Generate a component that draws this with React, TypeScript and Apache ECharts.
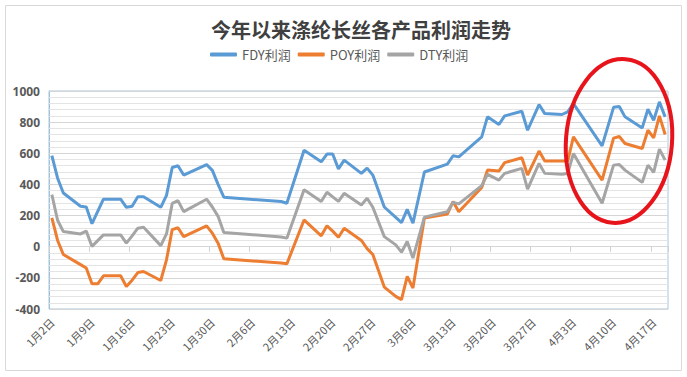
import React, { useEffect, useRef } from "react";
import * as echarts from "echarts";

// axis calendar (date axis, one slot per day)
const monthLengths = [31, 28, 31, 30];
const axisStartMonth = 1;
const axisStartDay = 2;
const axisEndMonth = 4;
const axisEndDay = 19;

// data points
const dates = [
  "1月2日", "1月3日", "1月4日", "1月7日", "1月8日", "1月9日", "1月10日", "1月11日",
  "1月14日", "1月15日", "1月16日", "1月17日", "1月18日", "1月21日", "1月22日", "1月23日",
  "1月24日", "1月25日", "1月29日", "1月30日", "1月31日", "2月1日", "2月11日", "2月12日",
  "2月15日", "2月18日", "2月19日", "2月20日", "2月21日", "2月22日", "2月25日", "2月26日",
  "2月27日", "3月1日", "3月3日", "3月4日", "3月5日", "3月6日", "3月8日", "3月12日",
  "3月13日", "3月14日", "3月18日", "3月19日", "3月21日", "3月22日", "3月25日", "3月26日",
  "3月28日", "3月29日", "4月1日", "4月2日", "4月3日", "4月8日", "4月10日", "4月11日",
  "4月12日", "4月15日", "4月16日", "4月17日", "4月18日", "4月19日",
];
const fdyProfit = [
  585, 440, 345, 260, 255, 148, null, 305,
  305, 253, 260, 321, 321, 253, 330, 509,
  520, 460, 527, 490, 400, 318, 290, 279,
  620, 545, 595, 595, 500, 556, 471, 505,
  460, 255, 189, 155, 240, 151, 480, 530,
  584, 577, 705, 834, 785, 840, 870, 748,
  913, 855, 849, 866, 919, 648, 895, 901,
  834, 763, 883, 812, 930, 834,
];
const poyProfit = [
  185, 40, -50, -115, -137, -238, -238, -187,
  -187, -255, -215, -166, -159, -217, -84, 110,
  122, 65, 134, 87, 23, -78, -105, -110,
  172, 70, 134, 100, 61, 119, 40, -12,
  -50, -259, -319, -340, -191, -265, 185, 210,
  290, 225, 380, 492, 486, 540, 571, 460,
  614, 550, 550, 550, 705, 428, 697, 708,
  663, 631, 748, 699, 840, 721,
];
const dtyProfit = [
  335, 170, 97, 82, 100, 2, null, 76,
  76, 23, 70, 119, 125, 7, 82, 278,
  296, 225, 305, 255, 195, 92, 62, 55,
  366, 290, 350, 320, 291, 343, 268, 311,
  253, 65, 12, -35, 33, -73, 190, 225,
  285, 275, 392, 465, 428, 471, 503, 370,
  535, 471, 465, 470, 599, 279, 524, 528,
  492, 413, 524, 477, 627, 556,
];

const yMin = -400;
const yMax = 1000;
const yInterval = 200;
const yMinorSplit = 5;

const seriesNames = ["FDY利润", "POY利润", "DTY利润"];
const seriesColors = ["#5b9bd5", "#ed7d31", "#a5a5a5"];

const PLOT_W = 619;

function buildDays(): string[] {
  const out: string[] = [];
  let m = axisStartMonth;
  let d = axisStartDay;
  while (true) {
    out.push(`${m}月${d}日`);
    if (m === axisEndMonth && d === axisEndDay) break;
    d++;
    if (d > monthLengths[m - 1]) {
      d = 1;
      m++;
    }
  }
  return out;
}

export default function App() {
  const ref = useRef<HTMLDivElement>(null);
  useEffect(() => {
    if (!ref.current) return;
    const chart = echarts.init(ref.current, undefined, { renderer: "svg" });
    const days = buildDays();
    const align = (vals: (number | null)[]) => {
      const map = new Map<string, number | null>();
      dates.forEach((dt, i) => map.set(dt, vals[i]));
      return days.map((dt) => (map.has(dt) ? map.get(dt) : null));
    };
    const allVals = [fdyProfit, poyProfit, dtyProfit];
    chart.setOption({
      animation: false,
      backgroundColor: "#ffffff",
      title: {
        text: "今年以来涤纶长丝各产品利润走势",
        left: 206,
        top: 14,
        textStyle: {
          fontSize: 20,
          fontWeight: "bold",
          color: "#404040",
          fontFamily: "Noto Sans CJK SC",
        },
      },
      legend: {
        left: 210,
        top: 48,
        padding: 0,
        icon: "roundRect",
        itemWidth: 27,
        itemHeight: 4,
        itemGap: 7,
        textStyle: { fontSize: 13, color: "#595959", fontFamily: "Noto Sans CJK SC" },
        data: seriesNames,
      },
      grid: {
        left: 49,
        right: 19,
        top: 91,
        bottom: 68,
        show: true,
        borderColor: "#a8c6da",
        borderWidth: 1,
        backgroundColor: "transparent",
      },
      xAxis: {
        type: "category",
        data: days,
        boundaryGap: true,
        axisLine: { show: true, lineStyle: { color: "#d0d0d0" } },
        axisTick: { show: true, interval: 6, length: 5, lineStyle: { color: "#d0d0d0" } },
        axisLabel: {
          interval: 6,
          rotate: 45,
          fontSize: 11,
          color: "#595959",
          margin: 11,
          fontFamily: "Noto Sans CJK SC",
        },
        splitLine: { show: false },
      },
      yAxis: {
        type: "value",
        min: yMin,
        max: yMax,
        interval: yInterval,
        position: "left",
        axisLine: { show: true, lineStyle: { color: "#9fc2d8" } },
        axisLabel: {
          fontSize: 12,
          color: "#595959",
          fontWeight: "bold",
          margin: 9,
          fontFamily: "Noto Sans",
          formatter: (v: number) => String(v),
        },
        axisTick: {
          show: true,
          inside: true,
          length: PLOT_W,
          lineStyle: { color: "#d6d6d6", width: 1 },
        },
        minorTick: {
          show: true,
          splitNumber: yMinorSplit,
          length: PLOT_W,
          lineStyle: { color: "#e4e4e4", width: 1 },
        },
        splitLine: { show: true, lineStyle: { color: "#d6d6d6", width: 1 } },
      },
      series: seriesNames.map((name, i) => ({
        name,
        type: "line",
        z: 3,
        data: align(allVals[i]),
        connectNulls: true,
        showSymbol: false,
        symbol: "none",
        color: seriesColors[i],
        lineStyle: { width: 3, color: seriesColors[i] },
      })),
      graphic: [
        {
          type: "rect",
          z: -10,
          shape: { x: 5.5, y: 5.5, width: 676, height: 365 },
          style: { fill: "none", stroke: "#d9d9d9", lineWidth: 1 },
        },
        {
          type: "ellipse",
          z: 100,
          x: 619,
          y: 141,
          rotation: -0.08,
          shape: { cx: 0, cy: 0, rx: 53, ry: 82 },
          style: { fill: "none", stroke: "#e8141b", lineWidth: 4 },
        },
      ],
    });
    return () => chart.dispose();
  }, []);
  return (
    <div
      ref={ref}
      style={{ position: "fixed", left: 0, top: 0, width: 687, height: 377, background: "#fff" }}
    />
  );
}
